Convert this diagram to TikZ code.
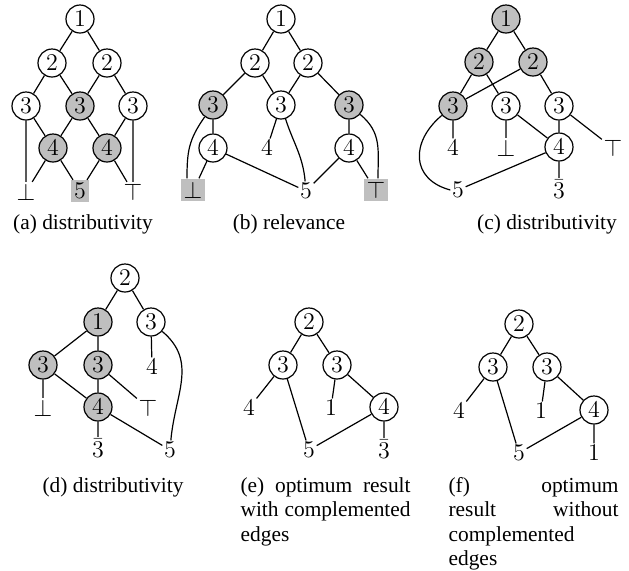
\documentclass[tikz,border=0pt]{standalone}
\usepackage{fontspec}
\setmainfont{Liberation Serif}
\begin{document}
\begin{tikzpicture}[x=0.5pt,y=-0.5pt,
  every node/.style={font=\fontsize{12}{14}\selectfont},
  vtx/.style={circle,draw,line width=0.6pt,minimum size=14pt,inner sep=0pt},
  hot/.style={vtx,fill=gray!50},
  lf/.style={inner sep=0.6pt},
  lfbox/.style={fill=gray!50,inner sep=1.4pt},
  captxt/.style={font=\fontsize{10.7}{12.5}\selectfont,inner sep=0pt},
  every path/.style={line width=0.6pt},
]
\useasboundingbox (0,0) rectangle (629,570);

% ---------- (a) ----------
\node[vtx] (a1)  at (80,19)  {$1$};
\node[vtx] (a2l) at (52,63)  {$2$};
\node[vtx] (a2r) at (107,63) {$2$};
\node[vtx] (a3l) at (26,106) {$3$};
\node[hot] (a3m) at (80,106) {$3$};
\node[vtx] (a3r) at (133,106){$3$};
\node[hot] (a4l) at (53,148) {$4$};
\node[hot] (a4r) at (107,148){$4$};
\node[lf]    (abot) at (26,192) {$\bot$};
\node[lfbox] (a5)   at (80,191) {$5$};
\node[lf]    (atop) at (133,192){$\top$};
\draw (a1)--(a2l) (a1)--(a2r)
      (a2l)--(a3l) (a2l)--(a3m) (a2r)--(a3m) (a2r)--(a3r)
      (a3l)--(a4l) (a3m)--(a4l) (a3m)--(a4r) (a3r)--(a4r)
      (a3l)--(abot) (a4l)--(abot) (a4l)--(a5) (a4r)--(a5)
      (a4r)--(atop) (a3r)--(atop);
\node[captxt,anchor=base] (capa) at (83,229) {(a) distributivity};

% ---------- (b) ----------
\node[vtx] (b1)  at (281,19)  {$1$};
\node[vtx] (b2l) at (255,63)  {$2$};
\node[vtx] (b2r) at (308,63)  {$2$};
\node[hot] (b3l) at (213,105) {$3$};
\node[vtx] (b3m) at (281,105) {$3$};
\node[hot] (b3r) at (349,105) {$3$};
\node[vtx] (b4l) at (213,148) {$4$};
\node[lf]  (b4m) at (267,148) {$4$};
\node[vtx] (b4r) at (349,148) {$4$};
\node[lfbox] (bbot) at (193,190) {$\bot$};
\node[lf]    (b5)   at (306,191) {$5$};
\node[lfbox] (btop) at (376,190) {$\top$};
\draw (b1)--(b2l) (b1)--(b2r)
      (b2l)--(b3l) (b2l)--(b3m) (b2r)--(b3m) (b2r)--(b3r)
      (b3l)--(b4l) (b3m)--(b4m) (b3r)--(b4r)
      (b4l)--(b5) (b4r)--(b5)
      (b4l)--([xshift=3pt]bbot.north)
      (b4r)--([xshift=-4pt]btop.north);
\draw (b3l) to[out=235,in=90,looseness=1.1] ([xshift=-3pt]bbot.north);
\draw (b3m) to[out=-72,in=95] (b5);
\draw (b3r) to[out=-40,in=90,looseness=1.1] ([xshift=1pt]btop.north);
\node[captxt,anchor=base] (capb) at (289,229) {(b) relevance};

% ---------- (c) ----------
\node[hot] (c1)  at (506,19)  {$1$};
\node[hot] (c2l) at (479,62)  {$2$};
\node[hot] (c2r) at (533,62)  {$2$};
\node[hot] (c3l) at (453,106) {$3$};
\node[vtx] (c3m) at (506,106) {$3$};
\node[vtx] (c3r) at (559,106) {$3$};
\node[lf]  (c4t) at (453,148) {$4$};
\node[lf]  (cbot) at (506,148) {$\bot$};
\node[vtx] (c4)  at (559,147) {$4$};
\node[lf]  (ctop) at (613,148) {$\top$};
\node[lf]  (c5)  at (458,190) {$5$};
\node[lf]  (cneg) at (559,189) {$\bar{3}$};
\draw (c1)--(c2l) (c1)--(c2r)
      (c2l)--(c3l) (c2l)--(c3m) (c2r)--(c3l) (c2r)--(c3r)
      (c3l)--(c4t) (c3m)--(cbot) (c3m)--(c4) (c3r)--(c4) (c3r)--(ctop)
      (c4)--(c5) (c4)--(cneg);
\draw (c3l) to[out=220,in=165,looseness=1.4] (c5.west);
\node[captxt,anchor=base] (capc) at (547,229) {(c) distributivity};

% ---------- (d) ----------
\node[vtx] (d2)  at (125,278) {$2$};
\node[hot] (d1)  at (98,322)  {$1$};
\node[vtx] (d3r) at (151,322) {$3$};
\node[hot] (d3l) at (43,365)  {$3$};
\node[hot] (d3m) at (98,365)  {$3$};
\node[lf]  (d4t) at (152,367) {$4$};
\node[lf]  (dbot) at (43,408) {$\bot$};
\node[hot] (d4)  at (98,407)  {$4$};
\node[lf]  (dtop) at (148,408) {$\top$};
\node[lf]  (dneg) at (98,448) {$\bar{3}$};
\node[lf]  (d5)  at (170,450) {$5$};
\draw (d2)--(d1) (d2)--(d3r)
      (d1)--(d3l) (d1)--(d3m) (d3r)--(d4t)
      (d3l)--(dbot) (d3l)--(d4) (d3m)--(d4) (d3m)--(dtop)
      (d4)--(dneg) (d4)--(d5);
\draw (d3r) to[out=-40,in=85,looseness=1.1] (d5);
\node[captxt,anchor=base] (capd) at (113,492) {(d) distributivity};

% ---------- (e) ----------
\node[vtx] (e2)  at (309,322) {$2$};
\node[vtx] (e3l) at (283,365) {$3$};
\node[vtx] (e3r) at (337,365) {$3$};
\node[lf]  (e4t) at (249,408) {$4$};
\node[lf]  (e1t) at (331,408) {$1$};
\node[vtx] (e4)  at (384,407) {$4$};
\node[lf]  (e5)  at (309,450) {$5$};
\node[lf]  (eneg) at (384,449) {$\bar{3}$};
\draw (e2)--(e3l) (e2)--(e3r)
      (e3l)--(e4t) (e3l)--(e5) (e3r)--(e1t) (e3r)--(e4)
      (e4)--(e5) (e4)--(eneg);
\node[captxt,anchor=base west] (cape1) at (240,492) {\makebox[85pt][s]{(e) optimum result}};
\node[captxt,anchor=base west] (cape2) at (240,516.5) {\makebox[85pt][s]{with complemented}};
\node[captxt,anchor=base west] (cape3) at (240,541) {edges};

% ---------- (f) ----------
\node[vtx] (f2)  at (519,324) {$2$};
\node[vtx] (f3l) at (493,367) {$3$};
\node[vtx] (f3r) at (547,367) {$3$};
\node[lf]  (f4t) at (459,411) {$4$};
\node[lf]  (f1t) at (541,411) {$1$};
\node[vtx] (f4)  at (594,410) {$4$};
\node[lf]  (f5)  at (519,453) {$5$};
\node[lf]  (f1b) at (594,453) {$1$};
\draw (f2)--(f3l) (f2)--(f3r)
      (f3l)--(f4t) (f3l)--(f5) (f3r)--(f1t) (f3r)--(f4)
      (f4)--(f5) (f4)--(f1b);
\node[captxt,anchor=base west] (capf1) at (448,492) {\makebox[85pt][s]{(f)\hfil optimum}};
\node[captxt,anchor=base west] (capf2) at (448,516.5) {\makebox[85pt][s]{result\hfil without}};
\node[captxt,anchor=base west] (capf3) at (448,541) {complemented};
\node[captxt,anchor=base west] (capf4) at (448,565.5) {edges};
\end{tikzpicture}
\end{document}
